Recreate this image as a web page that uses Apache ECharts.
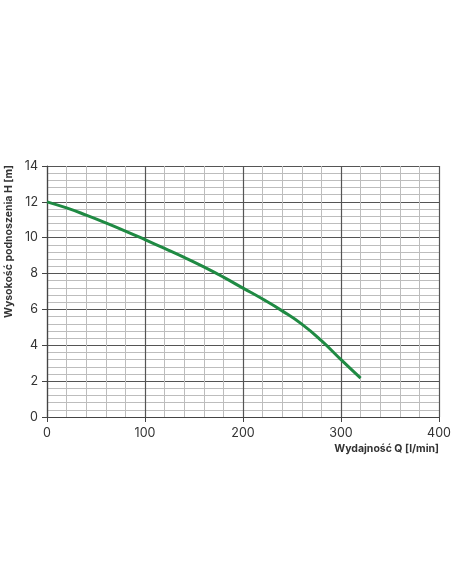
<!DOCTYPE html>
<html>
<head>
<meta charset="utf-8">
<script src="https://cdn.jsdelivr.net/npm/echarts@6/dist/echarts.min.js"></script>
<style>
  html, body { margin: 0; padding: 0; background: #fff; }
  #chart { width: 452px; height: 584px; }
</style>
</head>
<body>
<div id="chart"></div>
<script>
// Pump curve: flow Q [l/min] vs head H [m]
const flowQ = [0, 20, 40, 60, 80, 100, 120, 140, 160, 180, 200, 220, 240, 260, 280, 300, 320];
const headH = [12, 11.66, 11.26, 10.83, 10.37, 9.89, 9.4, 8.9, 8.37, 7.8, 7.19, 6.58, 5.92, 5.18, 4.26, 3.2, 2.17];
const xName = 'Wydajność Q [l/min]';
const yName = 'Wysokość podnoszenia H [m]';

const chart = echarts.init(document.getElementById('chart'));

const labelStyle = { color: '#333', fontFamily: 'Inter, sans-serif', fontSize: 12.5 };
const majorLine = { show: true, lineStyle: { color: '#555', width: 1.2 } };
const minorLine = { show: true, lineStyle: { color: '#bdbdbd', width: 1 } };

chart.setOption({
    animation: false,
    backgroundColor: '#fff',
    grid: { left: 47, right: 13, top: 166, bottom: 167, containLabel: false, outerBoundsMode: 'none' },
    xAxis: {
        type: 'value',
        min: 0,
        max: 400,
        interval: 100,
        name: xName,
        nameLocation: 'end',
        nameGap: 0,
        nameTextStyle: {
            color: '#333', fontFamily: 'Inter, sans-serif', fontSize: 10.5, fontWeight: 'bold',
            align: 'right', verticalAlign: 'top', padding: [26, 0, 0, 0]
        },
        axisLine: { show: true, lineStyle: { color: '#444', width: 1.2 } },
        axisTick: { show: true, length: 5, lineStyle: { color: '#444' } },
        axisLabel: Object.assign({ margin: 10 }, labelStyle),
        splitLine: majorLine,
        minorTick: { show: false, splitNumber: 5 },
        minorSplitLine: minorLine
    },
    yAxis: {
        type: 'value',
        min: 0,
        max: 14,
        interval: 2,
        name: yName,
        nameLocation: 'middle',
        nameGap: 30,
        nameTextStyle: {
            color: '#333', fontFamily: 'Inter, sans-serif', fontSize: 10.5, fontWeight: 'bold',
            padding: [0, 0, 0, 100]
        },
        axisLine: { show: true, lineStyle: { color: '#444', width: 1.2 } },
        axisTick: { show: true, length: 5, lineStyle: { color: '#444' } },
        axisLabel: Object.assign({ margin: 9 }, labelStyle),
        splitLine: majorLine,
        minorTick: { show: false, splitNumber: 5 },
        minorSplitLine: minorLine
    },
    series: [{
        type: 'line',
        data: flowQ.map((q, i) => [q, headH[i]]),
        smooth: 0.5,
        symbol: 'none',
        lineStyle: { color: '#1f8a43', width: 3 },
        z: 10
    }]
});
</script>
</body>
</html>
